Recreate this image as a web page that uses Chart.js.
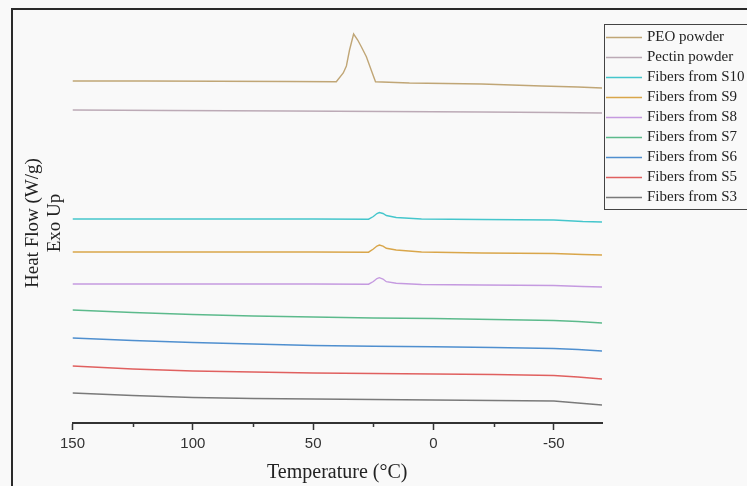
<!DOCTYPE html>
<html>
<head>
<meta charset="utf-8">
<title>DSC thermograms</title>
<script src="https://cdn.jsdelivr.net/npm/chart.js@4.4.0/dist/chart.umd.min.js"></script>
<style>
  html, body { margin: 0; padding: 0; background: #f9f9f9; }
  canvas { display: block; }
</style>
</head>
<body>
<canvas id="dscChart" width="747" height="486"></canvas>
<script>
// series labels and colours, top of legend first
const seriesNames = ['PEO powder', 'Pectin powder', 'Fibers from S10', 'Fibers from S9', 'Fibers from S8',
    'Fibers from S7', 'Fibers from S6', 'Fibers from S5', 'Fibers from S3'];
const seriesColors = ['#c0a676', '#bcaab6', '#45c6cc', '#d9a64a', '#c59ae0', '#5cba8c', '#4f8fcf', '#e0605f', '#7a7a7a'];

// temperature (°C) and heat flow (arbitrary offset units, exo up)
const peoTemp = [150, 120, 90, 60, 40.4, 37.5, 36.2, 34.9, 33.2, 31.5, 30.0, 27.9, 25.9, 24.1, 10, -20, -45, -60, -70];
const peoFlow = [34.2, 34.2, 34.17, 34.15, 34.13, 35.0, 35.7, 37.3, 38.9, 38.3, 37.63, 36.63, 35.3, 34.13, 34.0, 33.9, 33.7, 33.6, 33.5];

const pectinTemp = [150, 110, 60, 20, -20, -50, -70];
const pectinFlow = [31.3, 31.25, 31.2, 31.15, 31.1, 31.05, 31.0];

const fiberPeakTemp = [150, 100, 50, 27, 25, 23.5, 22.5, 21, 19.6, 15.5, 5, -20, -50, -62, -70];
const s10Flow = [20.4, 20.4, 20.4, 20.38, 20.65, 20.95, 21.05, 20.95, 20.75, 20.55, 20.4, 20.35, 20.3, 20.15, 20.1];
const s9Flow = [17.1, 17.1, 17.1, 17.08, 17.4, 17.7, 17.8, 17.68, 17.47, 17.3, 17.1, 17.0, 16.95, 16.85, 16.8];
const s8Flow = [13.9, 13.9, 13.9, 13.88, 14.15, 14.45, 14.53, 14.4, 14.13, 13.97, 13.85, 13.8, 13.75, 13.65, 13.6];

const fiberTemp = [150, 125, 100, 75, 50, 25, 0, -25, -50, -60, -70];
const s7Flow = [11.3, 11.05, 10.85, 10.7, 10.6, 10.5, 10.45, 10.35, 10.25, 10.15, 10.0];
const s6Flow = [8.5, 8.25, 8.05, 7.9, 7.75, 7.68, 7.62, 7.55, 7.45, 7.35, 7.2];
const s5Flow = [5.7, 5.4, 5.2, 5.1, 5.0, 4.95, 4.9, 4.85, 4.75, 4.6, 4.4];
const s3Flow = [3.0, 2.75, 2.55, 2.45, 2.4, 2.35, 2.3, 2.25, 2.2, 2.0, 1.8];

const xMajorTicks = [150, 100, 50, 0, -50];
const xMinorTicks = [125, 75, 25, -25];
const yTitleLines = ['Heat Flow (W/g)', 'Exo Up'];

const seriesTemps = [peoTemp, pectinTemp, fiberPeakTemp, fiberPeakTemp, fiberPeakTemp, fiberTemp, fiberTemp, fiberTemp, fiberTemp];
const seriesFlows = [peoFlow, pectinFlow, s10Flow, s9Flow, s8Flow, s7Flow, s6Flow, s5Flow, s3Flow];

function toPoints(temps, flows) {
    return temps.map((t, i) => ({ x: t, y: flows[i] }));
}

// page background and the black frame on the left/top edges
const framePlugin = {
    id: 'frame',
    beforeDraw(chart) {
        const ctx = chart.ctx;
        ctx.save();
        ctx.fillStyle = '#f9f9f9';
        ctx.fillRect(0, 0, chart.width, chart.height);
        ctx.fillStyle = '#2a2a2a';
        ctx.fillRect(11, 8, chart.width - 11, 2);
        ctx.fillRect(11, 8, 2, chart.height - 8);
        ctx.restore();
    }
};

// short minor ticks between the labelled ones
const minorTicksPlugin = {
    id: 'minorTicks',
    afterDraw(chart) {
        const ctx = chart.ctx;
        const xScale = chart.scales.x;
        const y0 = chart.chartArea.bottom;
        ctx.save();
        ctx.strokeStyle = '#333';
        ctx.lineWidth = 1.5;
        xMinorTicks.forEach(v => {
            const px = Math.round(xScale.getPixelForValue(v)) + 0.5;
            ctx.beginPath();
            ctx.moveTo(px, y0);
            ctx.lineTo(px, y0 + 4);
            ctx.stroke();
        });
        ctx.restore();
    }
};

// boxed legend in the top right corner (runs off the right edge like the original)
const legendBoxPlugin = {
    id: 'legendBox',
    afterDraw(chart) {
        const ctx = chart.ctx;
        ctx.save();
        ctx.strokeStyle = '#444';
        ctx.lineWidth = 1;
        ctx.strokeRect(604.5, 24.5, 160, 185);
        chart.data.datasets.forEach((ds, i) => {
            const y = 37 + i * 20;
            ctx.strokeStyle = ds.borderColor;
            ctx.lineWidth = 1.5;
            ctx.beginPath();
            ctx.moveTo(606, y + 0.5);
            ctx.lineTo(642, y + 0.5);
            ctx.stroke();
            ctx.fillStyle = '#222';
            ctx.font = '15px "Liberation Serif"';
            ctx.textBaseline = 'middle';
            ctx.fillText(ds.label, 647, y);
        });
        ctx.restore();
    }
};

const datasets = seriesNames.map((name, i) => ({
    label: name,
    data: toPoints(seriesTemps[i], seriesFlows[i]),
    borderColor: seriesColors[i],
    backgroundColor: seriesColors[i],
    borderWidth: 1.4,
    pointRadius: 0,
    tension: 0,
    fill: false
}));

new Chart(document.getElementById('dscChart'), {
    type: 'line',
    data: { datasets: datasets },
    options: {
        responsive: false,
        animation: false,
        devicePixelRatio: 1,
        layout: { padding: { left: 0, right: 145, top: 23, bottom: 0 } },
        plugins: {
            legend: { display: false },
            tooltip: { enabled: false }
        },
        scales: {
            x: {
                type: 'linear',
                reverse: true,
                min: -70,
                max: 150,
                afterBuildTicks: s => { s.ticks = xMajorTicks.map(v => ({ value: v })); },
                afterFit: s => { s.height = 63; },
                grid: { drawOnChartArea: false, drawTicks: true, tickLength: 7, tickColor: '#333', tickWidth: 1.5 },
                border: { display: true, color: '#333', width: 2 },
                ticks: { padding: 5, color: '#333', maxRotation: 0, font: { family: 'Liberation Sans', size: 15 } },
                title: {
                    display: true,
                    text: 'Temperature (°C)',
                    color: '#222',
                    padding: 0,
                    font: { family: 'Liberation Serif', size: 20, lineHeight: 1.35 }
                }
            },
            y: {
                type: 'linear',
                min: 0,
                max: 40,
                afterFit: s => { s.width = 72.5; },
                ticks: { display: false },
                grid: { display: false },
                border: { display: false },
                title: {
                    display: true,
                    text: yTitleLines,
                    color: '#222',
                    padding: { top: 22, bottom: 0 },
                    font: { family: 'Liberation Serif', size: 19, lineHeight: 1.16 }
                }
            }
        }
    },
    plugins: [framePlugin, minorTicksPlugin, legendBoxPlugin]
});
</script>
</body>
</html>
